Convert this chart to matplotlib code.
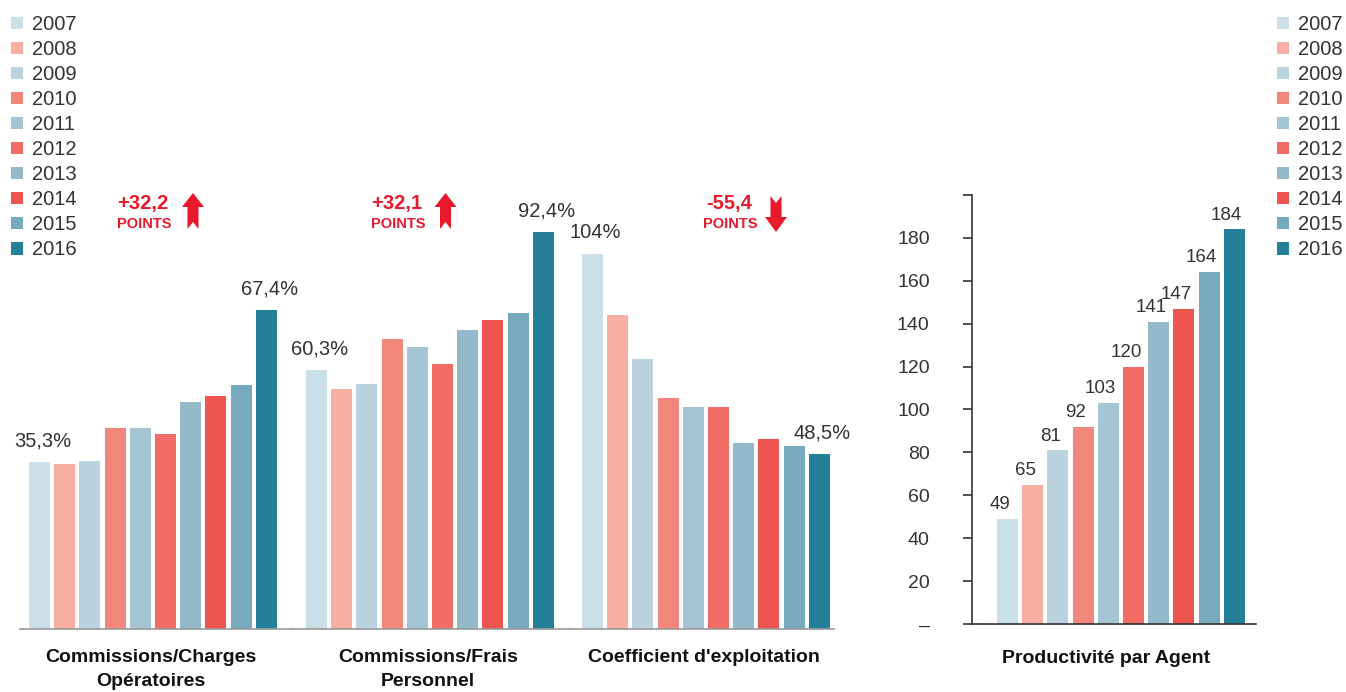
import numpy as np
import matplotlib.pyplot as plt
from matplotlib.patches import Polygon
from matplotlib.transforms import Affine2D

plt.rcParams['font.family'] = ['Liberation Sans', 'DejaVu Sans']

annees = ['2007', '2008', '2009', '2010', '2011', '2012', '2013', '2014', '2015', '2016']
couleurs = ['#cadfe7', '#f7aea3', '#bbd3de', '#f3867a', '#a6c5d4',
            '#f26d65', '#93b9cb', '#ef5550', '#77aabc', '#247f98']

# ratios (%) par année
comm_charges = [35.3, 34.8, 35.4, 42.4, 42.3, 41.1, 47.9, 49.2, 51.5, 67.4]
comm_frais = [60.3, 55.9, 56.9, 67.4, 65.6, 61.7, 69.5, 71.8, 73.6, 92.4]
coef_exploit = [104, 87.1, 74.7, 64.1, 61.6, 61.6, 51.4, 52.6, 50.7, 48.5]
noms_ratios = ['Commissions/Charges\nOpératoires', 'Commissions/Frais\nPersonnel',
               "Coefficient d'exploitation"]
variations = ['+32,2', '+32,1', '-55,4']

# productivité par agent
productivite = [49, 65, 81, 92, 103, 120, 141, 147, 164, 184]

ROUGE = '#e8192c'
GRIS = '#333333'
W, H = 1346, 692

fig = plt.figure(figsize=(W / 100, H / 100), dpi=100)
# coordonnées en pixels (origine en haut à gauche)
px = Affine2D().scale(1 / W, -1 / H).translate(0, 1) + fig.transFigure


def boite(gauche, haut, droite, bas):
    return [gauche / W, 1 - bas / H, (droite - gauche) / W, (bas - haut) / H]


def pct(v):
    s = f'{v:.0f}' if float(v).is_integer() else f'{v:.1f}'
    return s.replace('.', ',') + '%'


x = np.arange(len(annees))
pas = 25.2

# trois groupes de ratios, chacun sur son propre axe
series = [comm_charges, comm_frais, coef_exploit]
cadres = [(20, 291.5, 39.5, 4.74), (291.5, 568.5, 316.5, 4.30), (568.5, 834, 592.5, 3.61)]
for vals, nom, (g, d, c0, k) in zip(series, noms_ratios, cadres):
    ax = fig.add_axes(boite(g, 150, d, 629))
    ax.patch.set_visible(False)
    barres = ax.bar(x, vals, width=0.83, color=couleurs)
    ax.set_xlim((g - c0) / pas, (d - c0) / pas)
    ax.set_ylim(0, 479 / k)
    for s in ['left', 'right', 'top']:
        ax.spines[s].set_visible(False)
    ax.spines['bottom'].set_color('#999999')
    ax.spines['bottom'].set_linewidth(1.2)
    ax.set_xticks([])
    ax.set_yticks([])
    for i in (0, len(vals) - 1):
        ax.annotate(pct(vals[i]), (x[i], vals[i]), xytext=(2, 11),
                    textcoords='offset points', ha='center', va='baseline',
                    fontsize=14.5, color=GRIS, annotation_clip=False)
    ax.annotate(nom, (4.5, 0), xycoords=('data', 'axes fraction'), xytext=(-1.5, -14.5),
                textcoords='offset points', ha='center', va='top',
                fontsize=14, fontweight='bold', color='#111111', linespacing=1.5)

# productivité
axp = fig.add_axes(boite(972, 195, 1256, 624))
axp.patch.set_visible(False)
barres_p = axp.bar(x, productivite, width=0.83, color=couleurs)
axp.set_xlim((972 - 1007.5) / pas, (1256 - 1007.5) / pas)
axp.set_ylim(0, 200)
for s in ['right', 'top']:
    axp.spines[s].set_visible(False)
for s in ['left', 'bottom']:
    axp.spines[s].set_color(GRIS)
    axp.spines[s].set_linewidth(1.2)
axp.set_xticks([])
ticks = np.arange(0, 201, 20)
axp.set_yticks(ticks)
axp.set_yticklabels(['–'] + [str(t) for t in ticks[1:-1]] + [''])
axp.tick_params(axis='y', direction='out', length=6.5, width=1.2, color=GRIS,
                pad=24, labelsize=14, labelcolor=GRIS)
for xi, v in zip(x, productivite):
    axp.annotate(str(v), (xi, v), xytext=(-5.5, 7), textcoords='offset points',
                 ha='center', va='baseline', fontsize=13.5, color=GRIS)
axp.annotate('Productivité par Agent', (4.5, 0), xycoords=('data', 'axes fraction'),
             xytext=(-11, -18.5), textcoords='offset points', ha='center', va='top',
             fontsize=14, fontweight='bold', color='#111111')

# légendes
for gx in (11, 1277):
    fig.legend(barres.patches, annees, loc='upper left', bbox_to_anchor=(gx / W, 1 - 15 / H),
               frameon=False, fontsize=14.5, handlelength=0.58, handleheight=0.58,
               handletextpad=0.45, labelspacing=0.30, borderpad=0, borderaxespad=0,
               labelcolor=GRIS)


# variations en points
def fleche(cx, haut, montante):
    if montante:
        pts = [(-5.5, 36), (-5.5, 14), (-11, 14), (0, 0), (11, 14), (5.5, 14), (5.5, 36), (0, 29)]
    else:
        pts = [(-5.5, 0), (0, 7), (5.5, 0), (5.5, 21), (11, 21), (0, 36), (-11, 21), (-5.5, 21)]
    fig.add_artist(Polygon([(cx + a, haut + b) for a, b in pts], closed=True,
                           transform=px, facecolor=ROUGE, edgecolor='none'))


positions = [(143, 193, 193, True), (397, 445.5, 193, True), (729, 776, 196, False)]
for txt, (tx, fx_, fy_, monte) in zip(variations, positions):
    fig.text(tx, 204, txt, transform=px, ha='center', va='center',
             fontsize=14.5, fontweight='bold', color=ROUGE)
    fig.text(tx + 1, 224, 'POINTS', transform=px, ha='center', va='center',
             fontsize=10.5, fontweight='bold', color=ROUGE)
    fleche(fx_, fy_, monte)

fig.savefig('out.png', dpi=100)
